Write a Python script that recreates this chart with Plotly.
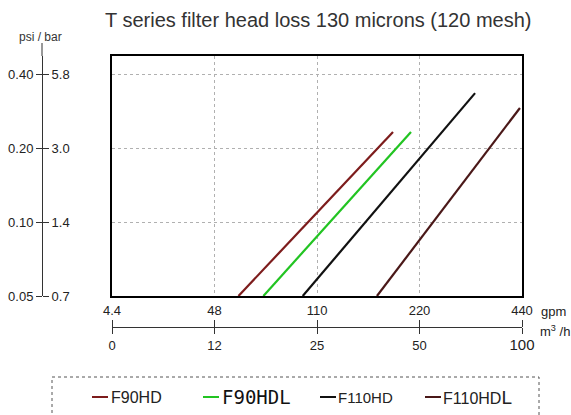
import math
import plotly.graph_objects as go

W, H = 571, 415

title_text = "T series filter head loss 130 microns (120 mesh)"
series_names = ["F90HD", "F90HDL", "F110HD", "F110HDL"]
series_colors = ["#7d1c1c", "#22c422", "#111111", "#4a1818"]

# flow in m3/h (log axis), head loss in bar (log axis)
flow_F90HD = [14.7, 41.8]
loss_F90HD = [0.05, 0.234]
flow_F90HDL = [17.4, 47.2]
loss_F90HDL = [0.05, 0.234]
flow_F110HD = [22.7, 72.8]
loss_F110HD = [0.05, 0.337]
flow_F110HDL = [37.5, 98.6]
loss_F110HDL = [0.05, 0.293]

m3h_tick_vals = [6.25, 12.5, 25, 50, 100]
m3h_tick_text = ["0", "12", "25", "50", "<span style='font-size:15px'>100</span>"]
gpm_tick_text = ["4.4", "48", "110", "220", "440"]
bar_tick_vals = [0.05, 0.10, 0.20, 0.40]
bar_tick_text = ["0.05", "0.10", "0.20", "0.40"]
psi_tick_text = ["0.7", "1.4", "3.0", "5.8"]

flows = [flow_F90HD, flow_F90HDL, flow_F110HD, flow_F110HDL]
losses = [loss_F90HD, loss_F90HDL, loss_F110HD, loss_F110HDL]


def fx(p):
    return p / W


def fy(p):
    return 1 - p / H


# pixel layout
PX0, PX1 = 112, 522
PYB, PYT = 296, 56
DOUBLE_PX_Y = 73.7
x_range = [math.log10(6.25), math.log10(100)]
y_range = [math.log10(0.05), math.log10(0.05) + (PYB - PYT) / DOUBLE_PX_Y * math.log10(2)]

FONT = "Liberation Sans, Arial, sans-serif"
fig = go.Figure()

for name, col, xs, ys in zip(series_names, series_colors, flows, losses):
    fig.add_trace(go.Scatter(x=xs, y=ys, mode="lines", name=name,
                             line=dict(color=col, width=2.2),
                             showlegend=False, hoverinfo="skip"))

# empty traces so the overlaid auxiliary axes render
fig.add_trace(go.Scatter(x=[], y=[], xaxis="x2", yaxis="y", showlegend=False))
fig.add_trace(go.Scatter(x=[], y=[], xaxis="x3", yaxis="y", showlegend=False))
fig.add_trace(go.Scatter(x=[], y=[], xaxis="x", yaxis="y2", showlegend=False))
fig.add_trace(go.Scatter(x=[], y=[], xaxis="x", yaxis="y3", showlegend=False))

xdom = [fx(PX0), fx(PX1)]
ydom = [fy(PYB), fy(PYT)]
tickfont = dict(family=FONT, size=13, color="#222222")

fig.update_layout(
    width=W, height=H,
    margin=dict(l=0, r=0, t=0, b=0, pad=0, autoexpand=False),
    paper_bgcolor="white", plot_bgcolor="rgba(0,0,0,0)",
    showlegend=False,
    xaxis=dict(type="log", domain=xdom, range=x_range, tickvals=m3h_tick_vals[1:4],
               showticklabels=False, ticks="", showgrid=True, gridcolor="#b0b0b0",
               griddash="dot", gridwidth=1, showline=True, mirror=True,
               linecolor="black", linewidth=2, zeroline=False, anchor="y",
               automargin=False),
    yaxis=dict(type="log", domain=ydom, range=y_range, tickvals=bar_tick_vals[1:],
               showticklabels=False, ticks="", showgrid=True, gridcolor="#b0b0b0",
               griddash="dot", gridwidth=1, showline=True, mirror=True,
               linecolor="black", linewidth=2, zeroline=False, anchor="x",
               automargin=False),
    xaxis2=dict(type="log", range=x_range, anchor="free", overlaying="x",
                position=fy(327), side="bottom", tickvals=m3h_tick_vals,
                ticktext=m3h_tick_text, ticks="outside", ticklen=6, tickwidth=1,
                tickcolor="#333", showline=True, linecolor="#333", linewidth=1,
                showgrid=False, zeroline=False, tickfont=tickfont, automargin=False),
    xaxis3=dict(type="log", range=x_range, anchor="free", overlaying="x",
                position=fy(327), side="top", tickvals=m3h_tick_vals,
                ticktext=gpm_tick_text, ticks="outside", ticklen=7, tickwidth=1,
                tickcolor="#333", showline=False,
                showgrid=False, zeroline=False, tickfont=tickfont, automargin=False),
    yaxis2=dict(type="log", range=y_range, overlaying="y",
                anchor="free", position=fx(42), side="left",
                tickvals=bar_tick_vals, ticktext=bar_tick_text, ticks="outside",
                ticklen=6, tickwidth=1, tickcolor="#333", showline=True,
                linecolor="#333", linewidth=1, showgrid=False, zeroline=False,
                tickfont=tickfont, automargin=False),
    yaxis3=dict(type="log", range=y_range, overlaying="y",
                anchor="free", position=fx(42), side="right",
                tickvals=bar_tick_vals, ticktext=psi_tick_text, ticks="outside",
                ticklen=6, tickwidth=1, tickcolor="#333", showline=False,
                showgrid=False, zeroline=False, tickfont=tickfont, automargin=False),
)

ann = []
ann.append(dict(text=title_text, x=fx(318), y=fy(20), xref="paper", yref="paper",
                showarrow=False, xanchor="center", yanchor="middle",
                font=dict(family=FONT, size=20, color="#333333")))
ann.append(dict(text="psi / bar", x=fx(41), y=fy(37), xref="paper", yref="paper",
                showarrow=False, xanchor="center", yanchor="middle",
                font=dict(family=FONT, size=12, color="#333333")))
ann.append(dict(text="gpm", x=fx(539), y=fy(311), xref="paper", yref="paper",
                showarrow=False, xanchor="left", yanchor="middle",
                font=dict(family=FONT, size=13, color="#222222")))
ann.append(dict(text="m<sup>3</sup> /h", x=fx(538), y=fy(331), xref="paper", yref="paper",
                showarrow=False, xanchor="left", yanchor="middle",
                font=dict(family=FONT, size=13, color="#222222")))

shapes = [
    # upward extension of the left scale line above the frame
    dict(type="line", xref="paper", yref="paper", x0=fx(42), x1=fx(42),
         y0=fy(PYT), y1=fy(43), line=dict(color="#333", width=1)),
    # dotted legend box (bottom edge falls outside the picture)
    dict(type="rect", xref="paper", yref="paper", x0=fx(52), x1=fx(539),
         y0=fy(377), y1=fy(430), line=dict(color="#555", width=1, dash="dot"),
         fillcolor="rgba(0,0,0,0)"),
]
leg_line_x = [92, 203, 320, 425]
leg_text_x = [109, 220, 336, 441]
leg_text = ["F90HD", "F90HDL", "F110HD", "F110HD<span style='font-size:19px'>L</span>"]
leg_fonts = [dict(family=FONT, size=16, color="#222"),
             dict(family="DejaVu Sans Mono, monospace", size=19, color="#111"),
             dict(family=FONT, size=15, color="#222"),
             dict(family=FONT, size=16, color="#222")]
for lx, tx, t, f, col in zip(leg_line_x, leg_text_x, leg_text, leg_fonts, series_colors):
    shapes.append(dict(type="line", xref="paper", yref="paper", x0=fx(lx), x1=fx(lx + 16),
                       y0=fy(397), y1=fy(397), line=dict(color=col, width=2)))
    ann.append(dict(text=t, x=fx(tx), y=fy(397), xref="paper", yref="paper",
                    showarrow=False, xanchor="left", yanchor="middle", font=f))

fig.update_layout(annotations=ann, shapes=shapes)
fig.write_html("out.html", post_script="document.body.style.margin='0';",
               config={"displayModeBar": False})
